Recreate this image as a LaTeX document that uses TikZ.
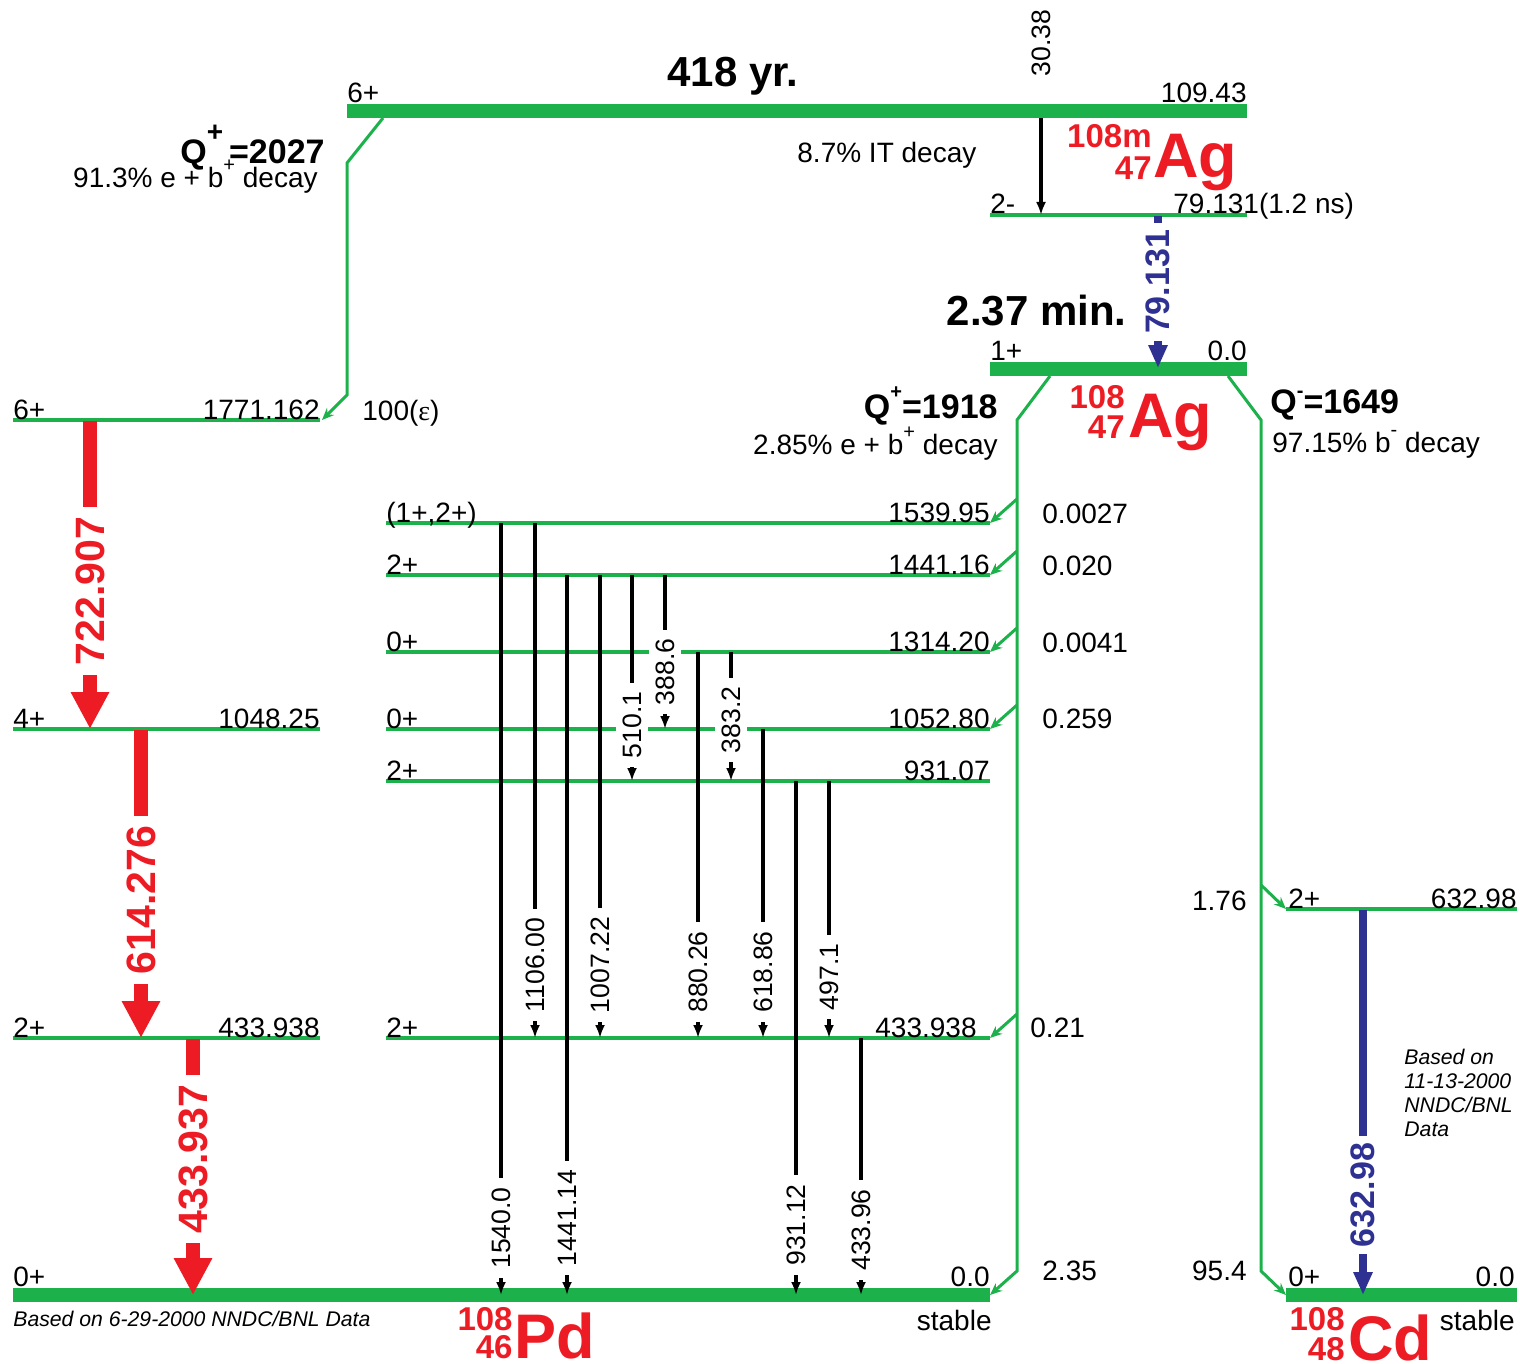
\documentclass[tikz,border=0pt]{standalone}
\usepackage{fontspec}
\setmainfont{Liberation Sans}
\newfontfamily\epsfont{Liberation Serif}
\usetikzlibrary{arrows.meta}
\definecolor{lvlgreen}{RGB}{29,177,75}
\definecolor{gamred}{RGB}{237,28,36}
\definecolor{gamblue}{RGB}{46,49,146}
\newcommand{\lvlfont}{\fontsize{14}{16}\selectfont}
\newcommand{\gamfont}{\fontsize{13.3}{15}\selectfont}
\newcommand{\hlfont}{\fontsize{21}{24}\selectfont\bfseries}
\newcommand{\qfont}{\fontsize{17}{20}\selectfont\bfseries}
\newcommand{\redfont}{\fontsize{20.5}{24}\selectfont\bfseries}
\newcommand{\bluefont}{\fontsize{17}{20}\selectfont\bfseries}
\newcommand{\nucsymfont}{\fontsize{31.5}{34}\selectfont\bfseries}
\newcommand{\nucnumfont}{\fontsize{16.5}{18}\selectfont\bfseries}
\newcommand{\notefont}{\fontsize{10.6}{12}\selectfont\itshape}
\newcommand{\upsign}[3]{\raisebox{#1}{\fontsize{#2}{#2}\selectfont #3}}
\tikzset{
  lvl/.style={draw=lvlgreen, line width=1.7pt},
  gslvl/.style={draw=lvlgreen, line width=6.8pt},
  feed/.style={draw=lvlgreen, line width=1.5pt, line join=miter, -{Stealth[length=6pt,width=5pt]}},
  gam/.style={draw=black, line width=1.6pt, -{Latex[length=6.5pt,width=5pt]}},
  redgam/.style={draw=gamred, line width=7pt, -{Triangle[length=18.5pt,width=18pt]}},
  bluegam/.style={draw=gamblue, line width=4pt, -{Triangle[length=11.5pt,width=9pt]}},
  glab/.style={rotate=90, fill=white, font=\gamfont, inner xsep=4.5pt, inner ysep=3.5pt},
  redlab/.style={rotate=90, fill=white, text=gamred, font=\redfont, inner xsep=5pt, inner ysep=1pt},
  bluelab/.style={rotate=90, fill=white, text=gamblue, font=\bluefont, inner xsep=3.5pt, inner ysep=1pt},
  spin/.style={anchor=base west, inner sep=0, font=\lvlfont},
  energy/.style={anchor=base east, inner sep=0, font=\lvlfont},
  desc/.style={inner sep=0, font=\lvlfont},
  qlab/.style={inner sep=0, font=\qfont},
  halflife/.style={inner sep=0, font=\hlfont},
  note/.style={inner sep=0, font=\notefont},
  nucsym/.style={anchor=base west, inner sep=0, text=gamred, font=\nucsymfont},
  nucnum/.style={anchor=base east, inner sep=0, text=gamred, font=\nucnumfont}
}
\begin{document}
\begin{tikzpicture}[x=0.5pt,y=-0.5pt]
  \useasboundingbox (0,0) rectangle (1520,1364);
  \draw[lvl] (13,420)--(320,420); \draw[lvl] (13,729)--(320,729); \draw[lvl] (13,1038)--(320,1038);
  \draw[lvl] (386,523)--(990,523); \draw[lvl] (386,575)--(990,575); \draw[lvl] (386,652)--(990,652);
  \draw[lvl] (386,729)--(990,729); \draw[lvl] (386,781)--(990,781); \draw[lvl] (386,1038)--(990,1038);
  \draw[gslvl] (13,1295)--(990,1295);
  \draw[gslvl] (347,111)--(1247,111); \draw[lvl] (990,215)--(1247,215); \draw[gslvl] (990,369)--(1247,369);
  \draw[lvl] (1286,909)--(1517,909); \draw[gslvl] (1286,1295)--(1517,1295);
  \draw[feed] (383,118)--(347,163)--(347,395)--(322,420);
  \draw[feed] (1050,376)--(1017,420)--(1017,1271)--(990,1295);
  \draw[feed] (1017,499)--(990,523); \draw[feed] (1017,551)--(990,575);
  \draw[feed] (1017,628)--(990,652); \draw[feed] (1017,705)--(990,729);
  \draw[feed] (1017,1014)--(990,1038);
  \draw[feed] (1228,376)--(1261,420)--(1261,1271)--(1286,1295);
  \draw[feed] (1261,885)--(1286,909);
  \draw[gam] (1041,118)--(1041,215);
  \draw[gam] (501,523)--(501,1295); \draw[gam] (535,523)--(535,1038);
  \draw[gam] (567,575)--(567,1295); \draw[gam] (600,575)--(600,1038);
  \draw[gam] (632,575)--(632,781); \draw[gam] (665,575)--(665,729);
  \draw[gam] (698,652)--(698,1038); \draw[gam] (731,652)--(731,781);
  \draw[gam] (763,729)--(763,1038);
  \draw[gam] (796,781)--(796,1295); \draw[gam] (829,781)--(829,1038);
  \draw[gam] (861,1038)--(861,1295);
  \draw[redgam] (90,421)--(90,729); \draw[redgam] (141,730)--(141,1038); \draw[redgam] (193,1039)--(193,1295);
  \draw[bluegam] (1158,216)--(1158,368); \draw[bluegam] (1363,910)--(1363,1295);
  \node[glab] (g1540) at (501,1228) {1540.0};  \node[glab] (g1106) at (535,965) {1106.00};
  \node[glab] (g1441) at (567,1218) {1441.14}; \node[glab] (g1007) at (600,965) {1007.22};
  \node[glab] (g510) at (632,725) {510.1};     \node[glab] (g389) at (665,672) {388.6};
  \node[glab] (g880) at (698,972) {880.26};    \node[glab] (g383) at (731,720) {383.2};
  \node[glab] (g619) at (763,972) {618.86};    \node[glab] (g931) at (796,1225) {931.12};
  \node[glab] (g497) at (829,977) {497.1};     \node[glab] (g434) at (861,1230) {433.96};
  \node[rotate=90, font=\gamfont, inner sep=0] (g30) at (1041,43) {30.38};
  \node[redlab] (r723) at (90,591) {722.907};
  \node[redlab] (r614) at (141,900) {614.276};
  \node[redlab] (r434) at (193,1159) {433.937};
  \node[bluelab] (b79) at (1158,282) {79.131};
  \node[bluelab] (b633) at (1363,1195) {632.98};
  \node[spin] (s6a) at (13,419) {6+};    \node[energy] (e1771) at (320,419) {1771.162};
  \node[spin] (s4a) at (13,728) {4+};    \node[energy] (e1048) at (320,728) {1048.25};
  \node[spin] (s2a) at (13,1037) {2+};   \node[energy] (e434a) at (320,1037) {433.938};
  \node[spin] (s0a) at (13,1286) {0+};
  \node[spin] (s1540) at (386,522) {(1+,2+)}; \node[energy] (e1540) at (990,522) {1539.95};
  \node[spin] (s1441) at (386,574) {2+};      \node[energy] (e1441) at (990,574) {1441.16};
  \node[spin] (s1314) at (386,651) {0+};      \node[energy] (e1314) at (990,651) {1314.20};
  \node[spin] (s1053) at (386,728) {0+};      \node[energy] (e1053) at (990,728) {1052.80};
  \node[spin] (s931) at (386,780) {2+};       \node[energy] (e931) at (990,780) {931.07};
  \node[spin] (s434) at (386,1037) {2+};      \node[energy] (e434) at (977,1037) {433.938};
  \node[energy] (e0pd) at (990,1286) {0.0};
  \node[energy] (stpd) at (992,1330) {stable};
  \node[spin] (s6m) at (347,103) {6+};        \node[energy] (e109) at (1247,103) {109.43};
  \node[halflife, anchor=base] (hlm) at (733,87) {418 yr.};
  \node[desc, anchor=base west] (it) at (797,163) {8.7\% IT decay};
  \node[spin] (s2m) at (990,214) {2-};        \node[spin] (e79) at (1173,214) {79.131(1.2 ns)};
  \node[halflife, anchor=base east] (hlg) at (1127,325) {2.37 min.};
  \node[spin] (s1ag) at (990,360) {1+};       \node[energy] (e0ag) at (1247,360) {0.0};
  \node[qlab, anchor=base east] (qec1) at (325,164) {Q\upsign{11pt}{14}{+}\kern3pt=2027};
  \node[desc, anchor=base east] (dec1) at (318,188) {91.3\% e + b\upsign{8pt}{10}{+} decay};
  \node[desc, anchor=base west] (eps) at (362,420) {100({\epsfont ε})};
  \node[qlab, anchor=base east] (qec2) at (998,418) {Q\upsign{10pt}{10}{+}=1918};
  \node[desc, anchor=base east] (dec2) at (998,454) {2.85\% e + b\upsign{8pt}{10}{+} decay};
  \node[qlab, anchor=base west] (qbm) at (1270,413) {Q\upsign{8pt}{10}{-}=1649};
  \node[desc, anchor=base west] (decbm) at (1272,452) {97.15\% b\upsign{8pt}{10}{-} decay};
  \node[desc, anchor=base west] (i1540) at (1042,523) {0.0027};
  \node[desc, anchor=base west] (i1441) at (1042,575) {0.020};
  \node[desc, anchor=base west] (i1314) at (1042,652) {0.0041};
  \node[desc, anchor=base west] (i1053) at (1042,728) {0.259};
  \node[desc, anchor=base west] (i434) at (1030,1037) {0.21};
  \node[desc, anchor=base west] (i0pd) at (1042,1280) {2.35};
  \node[desc, anchor=base east] (i633) at (1247,910) {1.76};
  \node[desc, anchor=base east] (i0cd) at (1247,1280) {95.4};
  \node[spin] (s2cd) at (1288,908) {2+};      \node[energy] (e633) at (1517,908) {632.98};
  \node[spin] (s0cd) at (1288,1286) {0+};     \node[energy] (e0cd) at (1515,1286) {0.0};
  \node[energy] (stcd) at (1515,1330) {stable};
  \node[note, anchor=base west] (src1) at (13,1326) {Based on 6-29-2000 NNDC/BNL Data};
  \node[note, anchor=north west, align=left] (src2) at (1404,1049) {Based on\\11-13-2000\\NNDC/BNL\\Data};
  \node[nucsym] (agm) at (1153,178) {Ag};  \node[nucnum] (agmA) at (1152,148) {108m}; \node[nucnum] (agmZ) at (1152,180) {47};
  \node[nucsym] (ag) at (1128,437) {Ag};   \node[nucnum] (agA) at (1125,408) {108};   \node[nucnum] (agZ) at (1125,438) {47};
  \node[nucsym] (pd) at (514,1358) {Pd};   \node[nucnum] (pdA) at (513,1330) {108};   \node[nucnum] (pdZ) at (513,1358) {46};
  \node[nucsym] (cd) at (1348,1360) {Cd};  \node[nucnum] (cdA) at (1345,1330) {108};  \node[nucnum] (cdZ) at (1345,1360) {48};
\end{tikzpicture}
\end{document}
